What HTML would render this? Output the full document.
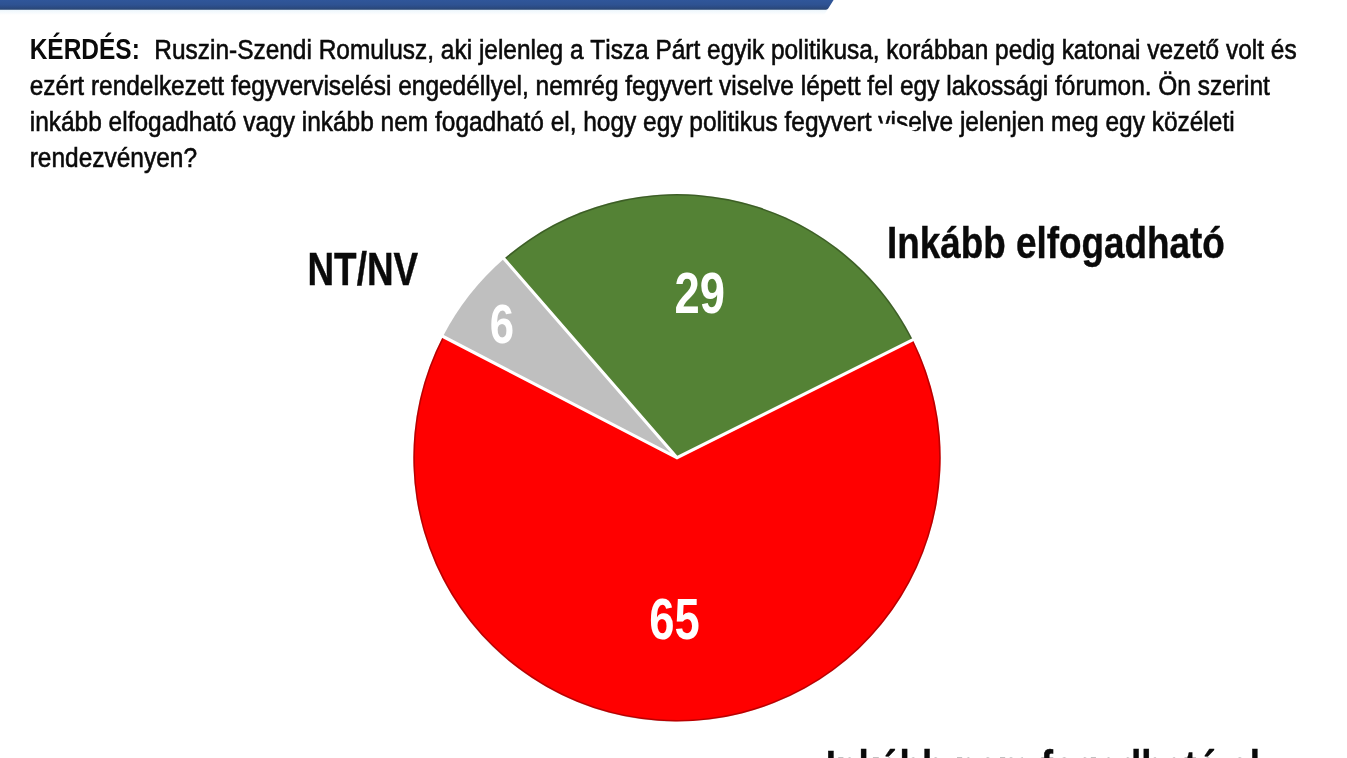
<!DOCTYPE html>
<html lang="hu">
<head>
<meta charset="utf-8">
<title>Kérdés</title>
<style>
html,body{margin:0;padding:0;background:#fff;}
body{width:1347px;height:758px;overflow:hidden;position:relative;font-family:"Liberation Sans",sans-serif;}
svg{position:absolute;left:0;top:0;display:block;}
text{font-family:"Liberation Sans",sans-serif;font-kerning:none;}
.q{font-size:28px;fill:#0a0a0a;stroke:#0a0a0a;stroke-width:0.6px;}
.q .qb{font-size:29px;font-weight:bold;stroke:none;}
.lab{font-size:44px;font-weight:bold;fill:#0a0a0a;stroke:#0a0a0a;stroke-width:0.4px;}
.num{font-size:56px;font-weight:bold;fill:#fff;}
</style>
</head>
<body>
<svg width="1347" height="758" viewBox="0 0 1347 758">
<defs>
<linearGradient id="bar" x1="0" y1="0" x2="0" y2="1">
<stop offset="0" stop-color="#30569a"/><stop offset="0.5" stop-color="#2e5292"/><stop offset="0.8" stop-color="#2b4a81"/><stop offset="1" stop-color="#294570"/>
</linearGradient>
<linearGradient id="halo" x1="0" y1="0" x2="0" y2="1">
<stop offset="0" stop-color="#e9f4fb"/><stop offset="1" stop-color="#ffffff"/>
</linearGradient>
</defs>
<rect x="0" y="0" width="1347" height="758" fill="#fff"/>
<path d="M0 9 H828 L824 15 H0 Z" fill="url(#halo)"/>
<path d="M0 0 H833.6 L828.2 8.6 Q827.6 9.7 826 9.7 H0 Z" fill="url(#bar)"/>
<g class="q">
<text class="qb" transform="translate(29.7,59.2) scale(0.844,1)">KÉRDÉS:</text>
<text transform="translate(154.3,59.2) scale(0.8735,1)">Ruszin-Szendi Romulusz, aki jelenleg a Tisza Párt egyik politikusa, korábban pedig katonai vezető volt és</text>
<text transform="translate(29.7,94.5) scale(0.8743,1)">ezért rendelkezett fegyverviselési engedéllyel, nemrég fegyvert viselve lépett fel egy lakossági fórumon. Ön szerint</text>
<text transform="translate(29.7,130.6) scale(0.8743,1)">inkább elfogadható vagy inkább nem fogadható el, hogy egy politikus fegyvert viselve jelenjen meg egy közéleti</text>
<text transform="translate(29.7,166.9) scale(0.8743,1)">rendezvényen?</text>
</g>
<path d="M876 123.3 L898 124.5 L917 128 L917 129.5 L905 132 L876 132 Z" fill="#fff"/>
<path d="M677.00 457.80 L504.00 258.78 A263.7 263.7 0 0 1 912.79 339.73 Z" fill="#548235"/>
<path d="M677.00 457.80 L912.79 339.73 A263.7 263.7 0 1 1 442.88 336.45 Z" fill="#ff0000"/>
<path d="M677.00 457.80 L442.88 336.45 A263.7 263.7 0 0 1 504.00 258.78 Z" fill="#bfbfbf"/>
<path d="M504.52 259.39 A262.90 262.90 0 1 1 443.59 336.81" fill="none" stroke="#000" stroke-opacity="0.27" stroke-width="1.6"/>
<path d="M914.58 338.83 L677.00 457.80 L441.11 335.52 M677.00 457.80 L502.69 257.27" fill="none" stroke="#fff" stroke-width="3.2" stroke-linejoin="miter" stroke-linecap="butt"/>
<text class="lab" transform="translate(307.5,285.2) scale(0.838,1.035)">NT/NV</text>
<text class="lab" transform="translate(887,257.9) scale(0.838,1)">Inkább elfogadható</text>
<text class="lab" transform="translate(825.8,783.3) scale(0.838,1.05)">Inkább nem fogadható el</text>
<text class="num" transform="translate(699.7,313.1) scale(0.81,1.04)" text-anchor="middle">29</text>
<text class="num" transform="translate(674.6,638.5) scale(0.81,1.04)" text-anchor="middle">65</text>
<text class="num" transform="translate(502,343.2) scale(0.78,1.0)" text-anchor="middle">6</text>
</svg>
</body>
</html>
